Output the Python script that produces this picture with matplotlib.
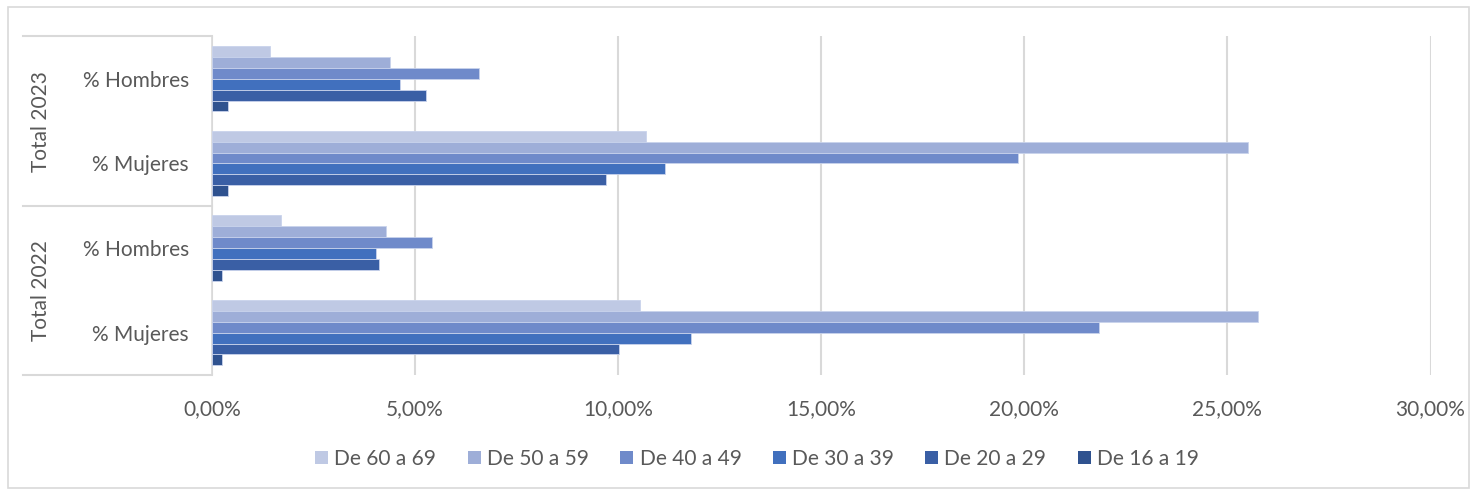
import matplotlib
matplotlib.use("Agg")
import matplotlib.pyplot as plt
import matplotlib.transforms as mtransforms
from matplotlib.lines import Line2D
from matplotlib.patches import Rectangle
from matplotlib.ticker import FuncFormatter
import numpy as np

plt.rcParams["font.family"] = ["Lato", "DejaVu Sans"]

# category order from top to bottom: (year, sex)
inner_labels = ["% Hombres", "% Mujeres", "% Hombres", "% Mujeres"]
outer_labels = ["Total 2023", "Total 2022"]

age_groups = ["De 60 a 69", "De 50 a 59", "De 40 a 49", "De 30 a 39", "De 20 a 29", "De 16 a 19"]
colors = ["#BFC9E4", "#9EAED8", "#6F8ACA", "#4170BE", "#3A5FA5", "#2F528F"]

# percentages per category, same order as inner_labels
de_60_69 = [1.42, 10.68, 1.69, 10.53]
de_50_59 = [4.39, 25.51, 4.29, 25.76]
de_40_49 = [6.57, 19.84, 5.42, 21.84]
de_30_39 = [4.62, 11.15, 4.03, 11.80]
de_20_29 = [5.26, 9.71, 4.10, 10.03]
de_16_19 = [0.39, 0.39, 0.24, 0.24]
series = [de_60_69, de_50_59, de_40_49, de_30_39, de_20_29, de_16_19]

text_color = "#595959"
grid_color = "#D9D9D9"
fs = 15

W, H = 1477, 494
fig = plt.figure(figsize=(W / 100, H / 100), dpi=100)
fig.patch.set_facecolor("white")

# outer chart border
fig.patches.append(Rectangle((8 / W, 6 / H), 1461 / W, 481 / H, transform=fig.transFigure,
                             fill=False, edgecolor=grid_color, linewidth=1.2))

ax = fig.add_axes([212 / W, (H - 375) / H, (1430.5 - 212) / W, (375 - 36.5) / H])

n_cat = len(inner_labels)
y = np.arange(n_cat)
group = 0.77
h = group / len(series)
for k, (vals, name, col) in enumerate(zip(series, age_groups, colors)):
    offset = -group / 2 + h * (k + 0.5)
    ax.barh(y + offset, vals, height=h, color=col, label=name,
            edgecolor="#C9D3EC", linewidth=0.6, zorder=3)

ax.set_xlim(0, 30)
ax.set_ylim(n_cat - 0.5, -0.5)
ax.set_xticks(np.arange(0, 31, 5))
ax.xaxis.set_major_formatter(FuncFormatter(lambda v, p: f"{v:.2f}%".replace(".", ",")))
ax.grid(axis="x", color=grid_color, linewidth=1.5, zorder=0)
for s in ["top", "right", "bottom"]:
    ax.spines[s].set_visible(False)
ax.spines["left"].set_color(grid_color)
ax.spines["left"].set_linewidth(1.2)
ax.tick_params(axis="x", length=0, pad=17, labelsize=fs, labelcolor=text_color)
ax.tick_params(axis="y", length=0, pad=16.5, labelsize=fs, labelcolor=text_color)
ax.set_yticks(y)
ax.set_yticklabels(inner_labels)

# multi-level category axis: separators and outer labels
blend = mtransforms.blended_transform_factory(fig.transFigure, ax.transData)
for yy in [-0.5, 1.5, 3.5]:
    ax.add_line(Line2D([23 / W, 212 / W], [yy, yy], transform=blend, color=grid_color,
                       linewidth=1.5, clip_on=False))
for i, lab in enumerate(outer_labels):
    ax.text(41 / W, 2 * i + 0.5, lab, transform=blend, rotation=90, ha="center", va="center",
            fontsize=fs, color=text_color)

handles, labels = ax.get_legend_handles_labels()
leg = fig.legend(handles, labels, loc="center", bbox_to_anchor=(757 / W, 1 - 459 / H), ncol=6,
                 frameon=False, fontsize=fs, handlelength=0.63, handleheight=0.63,
                 handletextpad=0.3, columnspacing=1.5, labelcolor=text_color)
for hnd in leg.legend_handles:
    hnd.set_linewidth(0)

fig.savefig("out.png", dpi=100, facecolor="white")
